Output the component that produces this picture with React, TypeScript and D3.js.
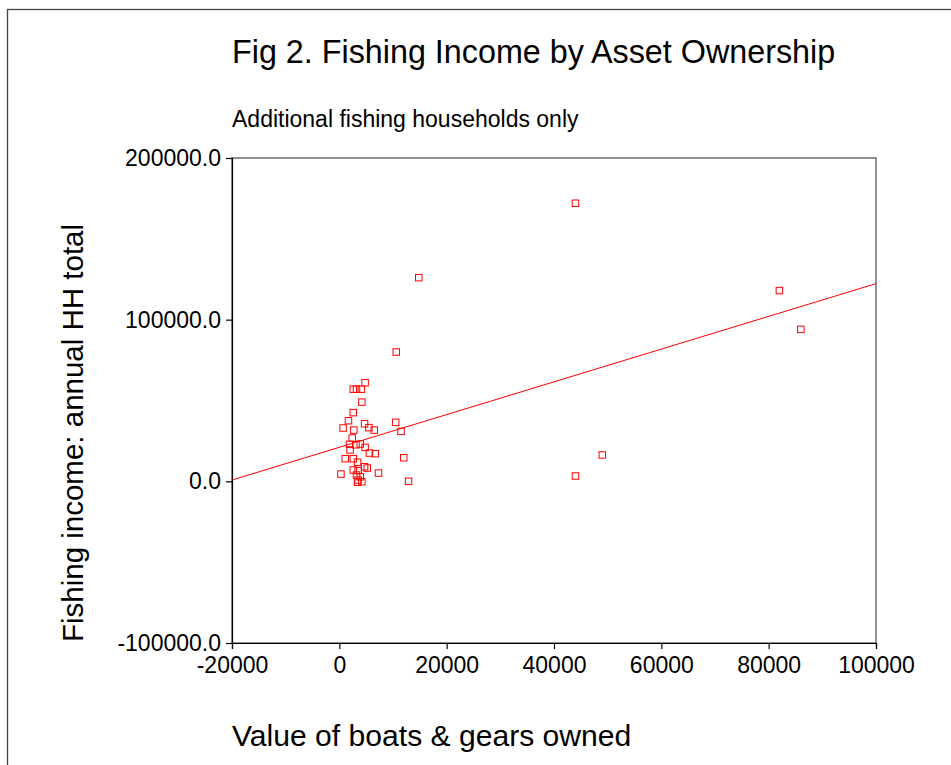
import React, { useEffect, useRef } from "react";
import * as d3 from "d3";

const assetValues = [
  44000, 14800, 82000, 86000, 44000, 49000, 10600,
  4800, 2600, 3200, 4100, 4200, 2600, 1700, 700, 2700, 4700, 5500, 6500,
  10500, 11500, 2400, 1900, 2000, 3100, 3900, 4800, 5600, 6700, 12000,
  1100, 2600, 3400, 4700, 5200, 300, 2600, 3500, 7300, 12900, 3200, 3900,
  3500, 4200, 3400,
];
const fishingIncome = [
  172000, 126000, 118000, 94000, 3300, 16300, 80000,
  61000, 57000, 57000, 57000, 49000, 42500, 37500, 33000, 31700, 35600, 33200, 31700,
  36500, 30900, 26800, 22900, 19400, 22600, 23100, 21000, 17500, 17100, 14600,
  14000, 14000, 11800, 9000, 8200, 4500, 7000, 6600, 5100, 0, 3900, 2800,
  800, -200, -600,
];
const fitIntercept = 21050;
const fitSlope = 1.0125;
const xTicks = [-20000, 0, 20000, 40000, 60000, 80000, 100000];
const yTicks = [-100000, 0, 100000, 200000];
const titleText = "Fig 2. Fishing Income by Asset Ownership";
const subtitleText = "Additional fishing households only";
const xTitle = "Value of boats & gears owned";
const yTitle = "Fishing income: annual HH total";

const FONT = "'Liberation Sans', Arial, sans-serif";

export default function App() {
  const ref = useRef<SVGSVGElement>(null);
  useEffect(() => {
    const svg = d3.select(ref.current);
    svg.selectAll("*").remove();
    const x = d3.scaleLinear().domain([-20000, 100000]).range([232, 876]);
    const y = d3.scaleLinear().domain([-100000, 200000]).range([643, 158]);

    // outer frame
    svg.append("rect").attr("x", 7.5).attr("y", 9.5).attr("width", 1000).attr("height", 1000)
      .attr("fill", "none").attr("stroke", "#444").attr("stroke-width", 1.3);

    // plot box
    svg.append("rect").attr("x", 232).attr("y", 158).attr("width", 644).attr("height", 485)
      .attr("fill", "none").attr("stroke", "#555").attr("stroke-width", 1.3);

    const gx = svg.append("g").attr("transform", "translate(0,643)")
      .call(d3.axisBottom(x).tickValues(xTicks).tickFormat((d) => String(d)).tickSize(6).tickPadding(8));
    const gy = svg.append("g").attr("transform", "translate(232,0)")
      .call(d3.axisLeft(y).tickValues(yTicks).tickFormat((d) => (+d).toFixed(1)).tickSize(6).tickPadding(5));
    [gx, gy].forEach((g) => {
      g.select(".domain").attr("stroke", "#000").attr("stroke-width", 1.2);
      g.selectAll(".tick line").attr("stroke", "#000").attr("stroke-width", 1.2);
      g.selectAll(".tick text").attr("font-family", FONT).attr("font-size", 23).attr("fill", "#000");
    });

    // fit line
    const line = d3.line<number>().x((d) => x(d)).y((d) => y(fitIntercept + fitSlope * d));
    svg.append("path").attr("d", line([-20000, 100000]) as string)
      .attr("fill", "none").attr("stroke", "#ff0000").attr("stroke-width", 1);

    // points
    const s = 6.5;
    svg.append("g").selectAll("rect").data(assetValues.map((v, i) => [v, fishingIncome[i]]))
      .join("rect")
      .attr("x", (d) => x(d[0]) - s / 2).attr("y", (d) => y(d[1]) - s / 2)
      .attr("width", s).attr("height", s)
      .attr("fill", "none").attr("stroke", "#ff0000").attr("stroke-width", 1);

    // texts
    svg.append("text").attr("x", 232).attr("y", 63).attr("font-family", FONT).attr("font-size", 32.3)
      .text(titleText);
    svg.append("text").attr("x", 232).attr("y", 127).attr("font-family", FONT).attr("font-size", 23)
      .text(subtitleText);
    svg.append("text").attr("x", 232).attr("y", 746).attr("font-family", FONT).attr("font-size", 30.1)
      .text(xTitle);
    svg.append("text").attr("transform", "translate(83,433) rotate(-90)").attr("text-anchor", "middle")
      .attr("font-family", FONT).attr("font-size", 29.5).text(yTitle);
  }, []);
  return (
    <svg ref={ref} width={951} height={765}
      style={{ position: "absolute", left: 0, top: 0, background: "#fff" }} />
  );
}
